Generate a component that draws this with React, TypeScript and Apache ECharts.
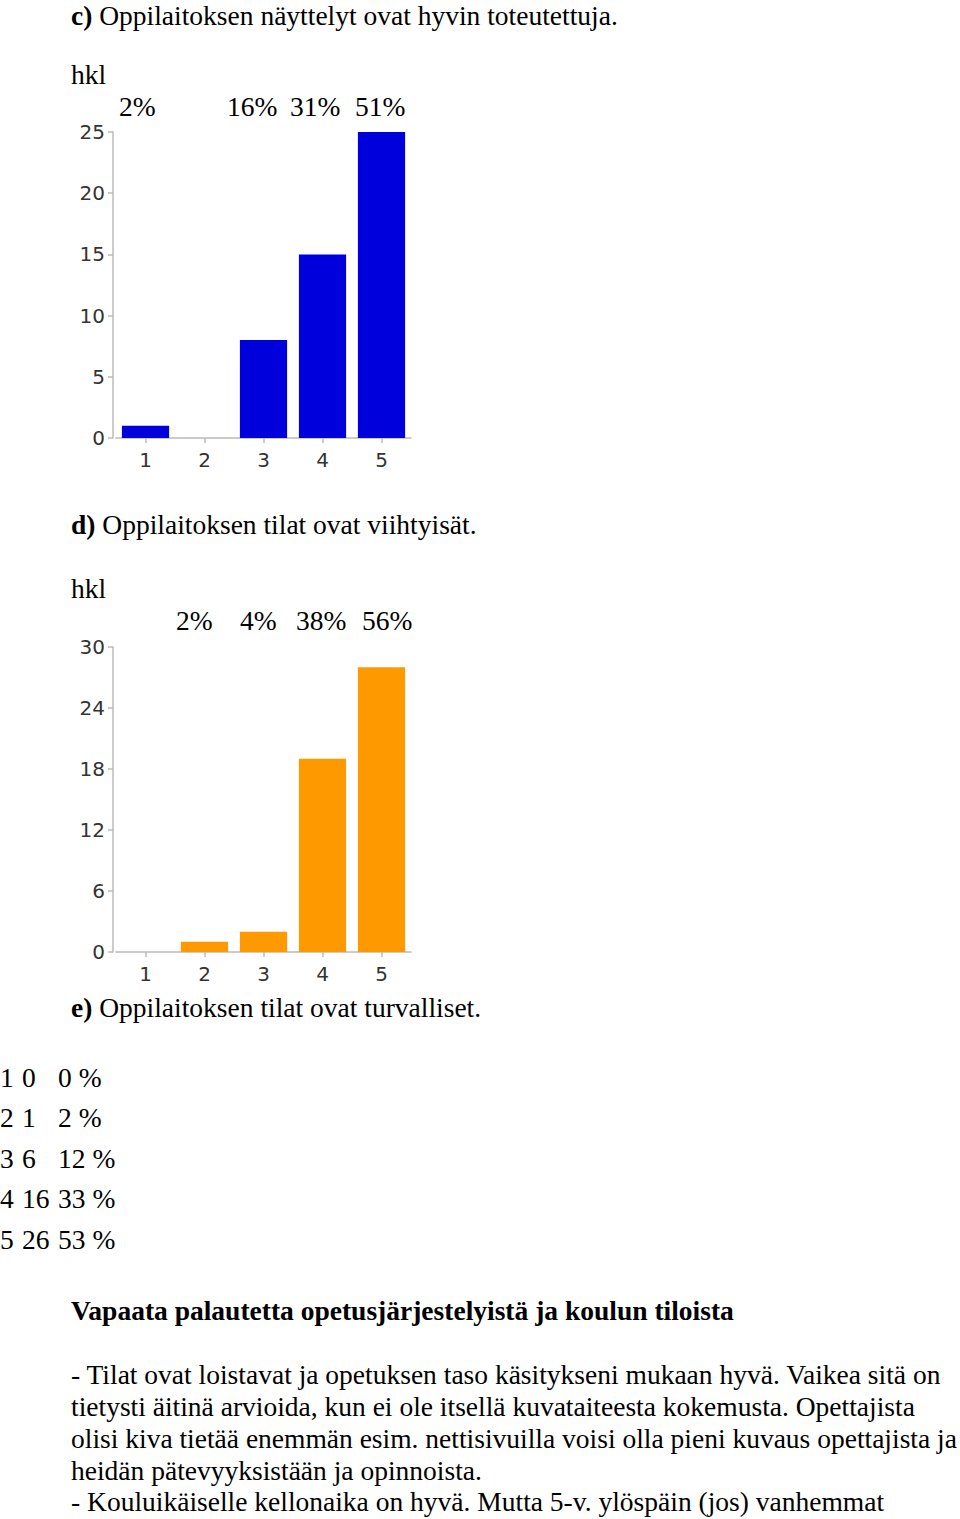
import React, { useEffect, useRef } from "react";
import * as echarts from "echarts";

const categories = ["1", "2", "3", "4", "5"];
const seriesC = [1, 0, 8, 15, 25];
const seriesD = [0, 1, 2, 19, 28];
const percentLabelsC = ["2%", "16%", "31%", "51%"];
const percentLabelsD = ["2%", "4%", "38%", "56%"];
const tableCol1 = ["1", "2", "3", "4", "5"];
const tableCol2 = ["0", "1", "6", "16", "26"];
const tableCol3 = ["0 %", "2 %", "12 %", "33 %", "53 %"];
const feedbackLines = [
  "- Tilat ovat loistavat ja opetuksen taso käsitykseni mukaan hyvä. Vaikea sitä on",
  "tietysti äitinä arvioida, kun ei ole itsellä kuvataiteesta kokemusta. Opettajista",
  "olisi kiva tietää enemmän esim. nettisivuilla voisi olla pieni kuvaus opettajista ja",
  "heidän pätevyyksistään ja opinnoista.",
  "- Kouluikäiselle kellonaika on hyvä. Mutta 5-v. ylöspäin (jos) vanhemmat",
];

const SERIF = "'Liberation Serif', 'DejaVu Serif', serif";
const SANS = "'DejaVu Sans', 'Liberation Sans', sans-serif";
const FS = 27.5;

export default function App() {
  const ref = useRef<HTMLDivElement>(null);
  useEffect(() => {
    document.body.style.margin = "0";
    const chart = echarts.init(ref.current!, null, { renderer: "svg" });
    const axisCommon = {
      axisLine: { show: true, lineStyle: { color: "#bbbbbb", width: 1.5 } },
      axisTick: { show: true, length: 5, lineStyle: { color: "#bbbbbb", width: 1.5 } },
      splitLine: { show: false },
      axisLabel: { color: "#333", fontFamily: SANS, fontSize: 20 },
    };
    const xAxisFor = (gi: number) => ({
      type: "category" as const,
      gridIndex: gi,
      data: categories,
      ...axisCommon,
      axisTick: { ...axisCommon.axisTick, alignWithLabel: true },
      axisLabel: { ...axisCommon.axisLabel, margin: 12 },
    });
    const yAxisFor = (gi: number, max: number, interval: number) => ({
      type: "value" as const,
      gridIndex: gi,
      min: 0,
      max,
      interval,
      offset: 3,
      ...axisCommon,
      axisLabel: { ...axisCommon.axisLabel, margin: 8, padding: [6, 0, 0, 0] },
    });
    const textEl = (x: number, y: number, text: string, extra: any = {}) => ({
      type: "text",
      x,
      y,
      style: {
        text,
        fontFamily: SERIF,
        fontSize: FS,
        fill: "#000",
        verticalAlign: "middle",
        align: "left",
        ...extra,
      },
    });
    const richTitle = (y: number, lead: string, rest: string) => ({
      type: "text",
      x: 71,
      y,
      style: {
        text: "{b|" + lead + "} " + rest,
        fontFamily: SERIF,
        fontSize: FS,
        fill: "#000",
        verticalAlign: "middle",
        rich: { b: { fontWeight: "bold", fontFamily: SERIF, fontSize: FS } },
      },
    });
    const pctXC = [119, 227, 290, 355];
    const pctXD = [176, 240, 296, 362];
    const tableY = [1077, 1117, 1158, 1198, 1239];
    const lineY = [1374, 1406, 1438, 1470, 1501];
    const graphics: any[] = [
      richTitle(15, "c)", "Oppilaitoksen näyttelyt ovat hyvin toteutettuja."),
      textEl(71, 74, "hkl"),
      ...percentLabelsC.map((t, i) => textEl(pctXC[i], 106, t)),
      richTitle(524, "d)", "Oppilaitoksen tilat ovat viihtyisät."),
      textEl(71, 588, "hkl"),
      ...percentLabelsD.map((t, i) => textEl(pctXD[i], 620, t)),
      richTitle(1007, "e)", "Oppilaitoksen tilat ovat turvalliset."),
      ...tableCol1.map((t, i) => textEl(0, tableY[i], t)),
      ...tableCol2.map((t, i) => textEl(22, tableY[i], t)),
      ...tableCol3.map((t, i) => textEl(58, tableY[i], t)),
      textEl(71, 1310, "Vapaata palautetta opetusjärjestelyistä ja koulun tiloista", {
        fontWeight: "bold",
      }),
      ...feedbackLines.map((t, i) => textEl(71, lineY[i], t)),
    ];
    chart.setOption({
      animation: false,
      backgroundColor: "#fff",
      grid: [
        { left: 116, top: 132, width: 295, height: 306 },
        { left: 116, top: 647, width: 295, height: 305 },
      ],
      xAxis: [xAxisFor(0), xAxisFor(1)],
      yAxis: [yAxisFor(0, 25, 5), yAxisFor(1, 30, 6)],
      series: [
        {
          type: "bar",
          xAxisIndex: 0,
          yAxisIndex: 0,
          data: seriesC,
          barCategoryGap: "20%",
          itemStyle: { color: "#0000dd" },
        },
        {
          type: "bar",
          xAxisIndex: 1,
          yAxisIndex: 1,
          data: seriesD,
          barCategoryGap: "20%",
          itemStyle: { color: "#ff9900" },
        },
      ],
      graphic: graphics,
    });
    return () => chart.dispose();
  }, []);
  return (
    <div
      ref={ref}
      style={{ position: "absolute", left: 0, top: 0, width: 960, height: 1519 }}
    />
  );
}
